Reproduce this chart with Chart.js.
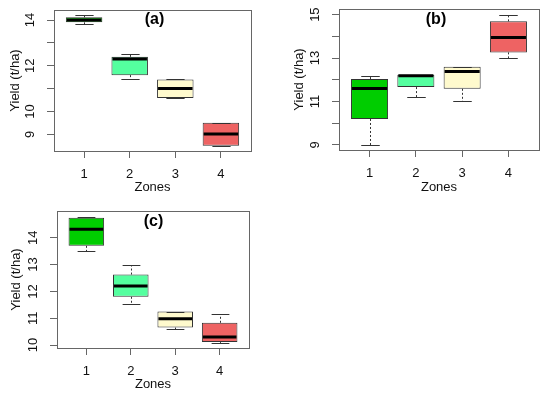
<!DOCTYPE html>
<html><head><meta charset="utf-8">
<script src="https://cdn.jsdelivr.net/npm/chart.js@4.4.1/dist/chart.umd.min.js"></script>
<style>
html,body{margin:0;padding:0;background:#fff;}
#wrap{position:relative;width:550px;height:393px;overflow:hidden;background:#fff;}
canvas{position:absolute;}
</style></head><body>
<div id="wrap">
<canvas id="ca" width="275" height="195" style="left:0;top:0"></canvas>
<canvas id="cb" width="275" height="195" style="left:275px;top:0"></canvas>
<canvas id="cc" width="275" height="198" style="left:0;top:195px"></canvas>
</div>
<script>
// ---- data ----
const zones = [1, 2, 3, 4];
const zoneColors = ['#00CD00', '#54FF9F', '#FFFACD', '#EE6363'];

// Panel (a)
const aLow  = [13.81, 11.40, 10.59, 8.50];
const aQ1   = [13.90, 11.59, 10.59, 8.50];
const aMed  = [14.00, 12.30, 11.00, 9.01];
const aQ3   = [14.12, 12.39, 11.40, 9.51];
const aHigh = [14.21, 12.51, 11.40, 9.51];
const aTicks = [9, 10, 11, 12, 13, 14];
const aTickLabels = [9, 10, 12, 14];

// Panel (b)
const bLow  = [9.00, 11.20, 11.00, 13.00];
const bQ1   = [10.19, 11.66, 11.58, 13.26];
const bMed  = [11.60, 12.18, 12.38, 13.95];
const bQ3   = [12.03, 12.23, 12.60, 14.69];
const bHigh = [12.17, 12.23, 12.60, 15.00];
const bTicks = [9, 10, 11, 12, 13, 14, 15];
const bTickLabels = [9, 11, 13, 15];

// Panel (c)
const cLow  = [13.50, 11.54, 10.60, 10.07];
const cQ1   = [13.70, 11.80, 10.65, 10.11];
const cMed  = [14.32, 12.20, 10.98, 10.30];
const cQ3   = [14.75, 12.63, 11.25, 10.83];
const cHigh = [14.78, 13.00, 11.25, 11.15];
const cTicks = [10, 11, 12, 13, 14];
const cTickLabels = [10, 11, 12, 13, 14];

const FONT = '"Liberation Sans", Arial, Helvetica, sans-serif';

const boxExtras = {
  id: 'boxExtras',
  afterDatasetsDraw(chart, args, o) {
    const {ctx} = chart;
    const y = chart.scales.y;
    const meta = chart.getDatasetMeta(0);
    const p = o.panel;
    ctx.save();
    meta.data.forEach((bar, i) => {
      const x = Math.round(bar.x) + 0.5, w = bar.width;
      const yq1 = y.getPixelForValue(p.q1[i]), yq3 = y.getPixelForValue(p.q3[i]);
      const ylo = Math.round(y.getPixelForValue(p.low[i])) + 0.5;
      const yhi = Math.round(y.getPixelForValue(p.high[i])) + 0.5;
      ctx.strokeStyle = '#333'; ctx.lineWidth = 1;
      ctx.setLineDash([2, 2]);
      ctx.beginPath();
      if (p.low[i] < p.q1[i]) { ctx.moveTo(x, yq1); ctx.lineTo(x, ylo); }
      if (p.high[i] > p.q3[i]) { ctx.moveTo(x, yq3); ctx.lineTo(x, yhi); }
      ctx.stroke();
      ctx.setLineDash([]);
      ctx.beginPath();
      ctx.moveTo(x - w / 4, ylo); ctx.lineTo(x + w / 4, ylo);
      ctx.moveTo(x - w / 4, yhi); ctx.lineTo(x + w / 4, yhi);
      ctx.stroke();
      const ym = y.getPixelForValue(p.med[i]);
      ctx.strokeStyle = '#000'; ctx.lineWidth = 3;
      ctx.beginPath();
      ctx.moveTo(bar.x - w / 2 + 1, ym); ctx.lineTo(bar.x + w / 2 - 1, ym);
      ctx.stroke();
    });
    const a = chart.chartArea;
    ctx.strokeStyle = '#666'; ctx.lineWidth = 1;
    ctx.strokeRect(Math.round(a.left) + 0.5, Math.round(a.top) + 0.5,
                   Math.round(a.right - a.left), Math.round(a.bottom - a.top));
    ctx.fillStyle = '#000';
    ctx.font = 'bold 16px ' + FONT;
    ctx.textAlign = 'center'; ctx.textBaseline = 'middle';
    ctx.fillText(p.tag, o.tagX, o.tagY);
    ctx.restore();
  }
};

function makePanel(id, p, lay) {
  const H = document.getElementById(id).height;
  return new Chart(document.getElementById(id), {
    type: 'bar',
    data: {
      datasets: [{
        data: zones.map((z, i) => ({x: z, y: [p.q1[i], p.q3[i]]})),
        backgroundColor: zoneColors,
        borderColor: '#333',
        borderWidth: 1,
        borderSkipped: false,
        barPercentage: 0.8,
        categoryPercentage: 1.0
      }]
    },
    options: {
      responsive: false, animation: false, devicePixelRatio: 1,
      events: [],
      layout: {autoPadding: false, padding: {left: 0, top: lay.top, right: lay.right, bottom: 0}},
      plugins: {legend: {display: false}, tooltip: {enabled: false},
                boxExtras: {panel: p, tagX: lay.tagX, tagY: lay.tagY}},
      scales: {
        x: {
          type: 'linear', min: 0.34, max: 4.66, offset: false,
          afterBuildTicks: s => { s.ticks = zones.map(v => ({value: v})); },
          afterFit: s => { s.height = H - lay.bottom; s.paddingLeft = 0; s.paddingRight = 0; },
          grid: {offset: false, drawOnChartArea: false, drawTicks: true, tickLength: 7, tickColor: '#666', tickWidth: 1},
          border: {display: true, color: '#666', width: 1},
          ticks: {autoSkip: false, maxRotation: 0, padding: 9, color: '#111',
                  font: {family: FONT, size: 13}, callback: v => String(v)},
          title: {display: true, text: 'Zones', color: '#111', font: {family: FONT, size: 13},
                  padding: {top: 0, bottom: lay.xTitlePad}}
        },
        y: {
          min: p.min, max: p.max,
          afterBuildTicks: s => { s.ticks = p.ticks.map(v => ({value: v})); },
          afterFit: s => { s.width = lay.left; s.paddingTop = 0; s.paddingBottom = 0; },
          grid: {drawOnChartArea: false, drawTicks: true, tickLength: 7, tickColor: '#666', tickWidth: 1},
          border: {display: true, color: '#666', width: 1},
          ticks: {autoSkip: false, minRotation: 90, maxRotation: 90, crossAlign: 'center',
                  padding: 9.8, color: '#111', font: {family: FONT, size: 13},
                  callback: v => p.labels.includes(v) ? String(v) : ''},
          title: {display: true, text: 'Yield (t/ha)', color: '#111', font: {family: FONT, size: 13},
                  padding: {top: lay.yTitlePad, bottom: 0}}
        }
      }
    },
    plugins: [boxExtras]
  });
}

makePanel('ca', {low: aLow, q1: aQ1, med: aMed, q3: aQ3, high: aHigh, ticks: aTicks, labels: aTickLabels,
                 min: 8.27, max: 14.44, tag: '(a)'},
          {left: 54, top: 10, right: 24, bottom: 151, tagX: 154.5, tagY: 20, xTitlePad: 0.2, yTitlePad: 7.2});
makePanel('cb', {low: bLow, q1: bQ1, med: bMed, q3: bQ3, high: bHigh, ticks: bTicks, labels: bTickLabels,
                 min: 8.76, max: 15.26, tag: '(b)'},
          {left: 64, top: 9, right: 11, bottom: 150, tagX: 161, tagY: 20, xTitlePad: 0.2, yTitlePad: 16.2});
makePanel('cc', {low: cLow, q1: cQ1, med: cMed, q3: cQ3, high: cHigh, ticks: cTicks, labels: cTickLabels,
                 min: 9.89, max: 15.0, tag: '(c)'},
          {left: 57, top: 16, right: 26, bottom: 153, tagX: 153.5, tagY: 26.5, xTitlePad: 1.2, yTitlePad: 8.2});
</script>
</body></html>
